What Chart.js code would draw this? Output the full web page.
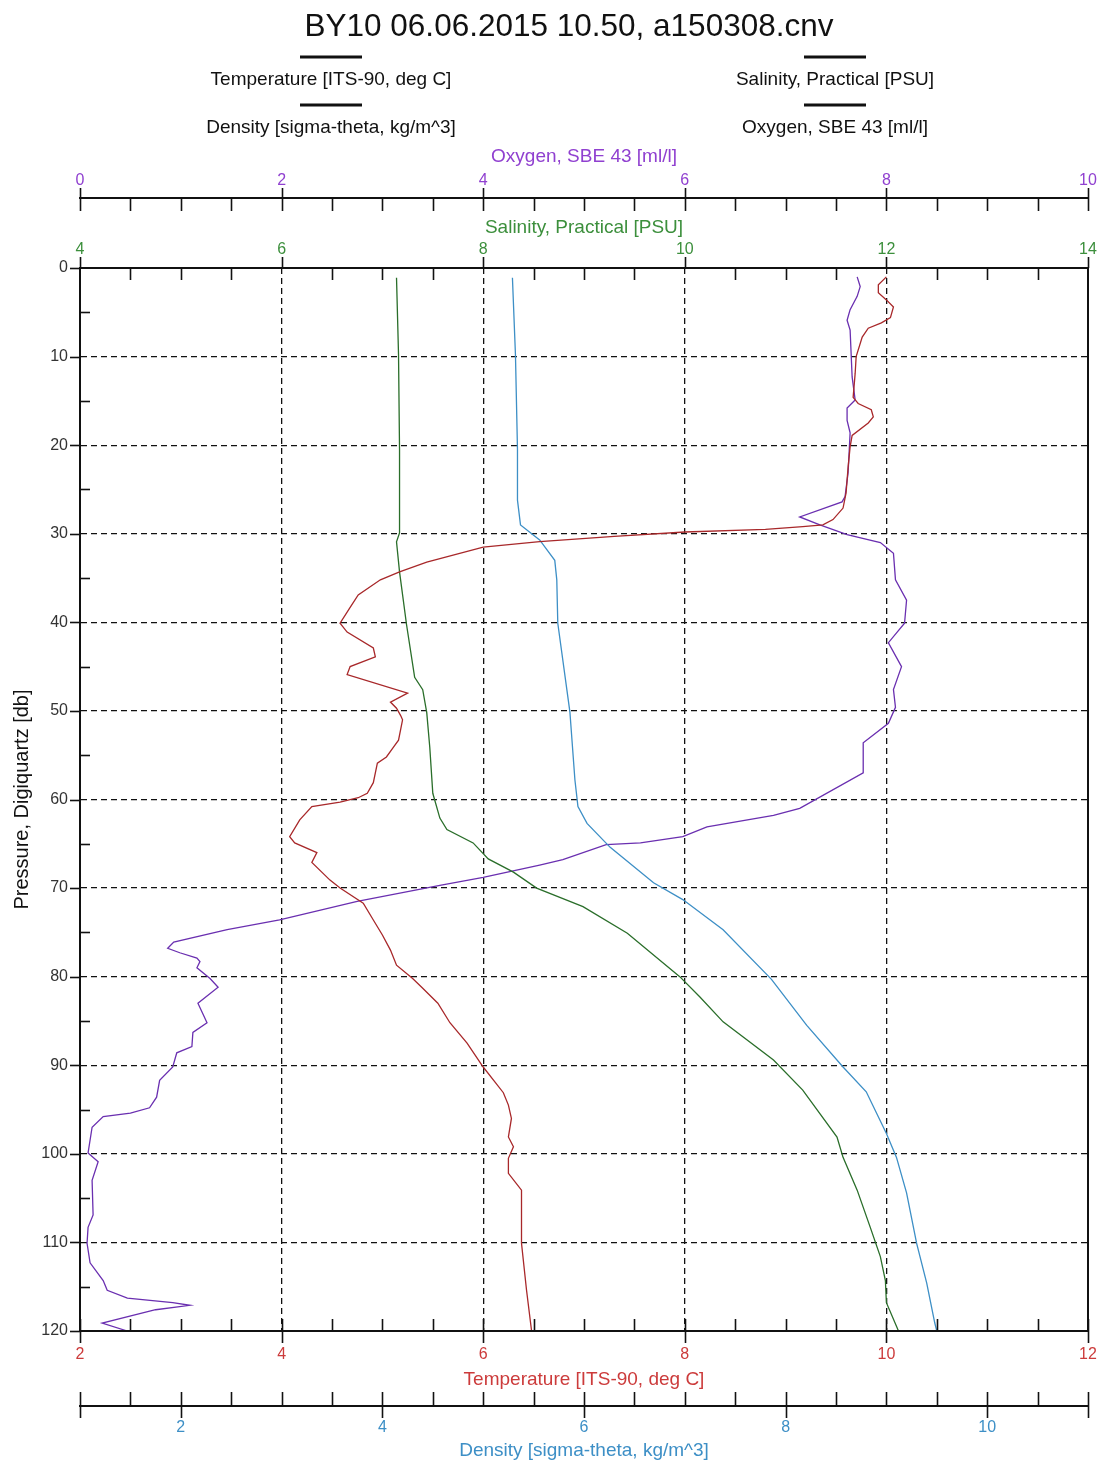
<!DOCTYPE html>
<html>
<head>
<meta charset="utf-8">
<script src="https://cdn.jsdelivr.net/npm/chart.js@4.4.1/dist/chart.umd.min.js"></script>
<style>
  html, body { margin: 0; padding: 0; background: #fff; }
  canvas { display: block; }
</style>
</head>
<body>
<canvas id="perfil" width="1101" height="1466"></canvas>
<script>
const chartTitle = 'BY10 06.06.2015 10.50, a150308.cnv';

// CTD cast, one pressure array per trace (db)
const tempPres = [1.0, 1.9, 2.8, 3.6, 4.4, 5.6, 6.2, 6.8, 7.8, 10.0, 11.9, 14.6, 15.3, 16.0, 16.8, 17.5, 18.9, 20.2, 22.5, 25.4,
  27.1, 28.4, 29.0, 29.2, 29.5, 29.8, 30.3, 30.9, 31.5, 33.2, 34.3, 35.2, 36.9, 38.3, 40.1, 41.1, 42.9, 43.9, 45.0, 45.9,
  48.0, 49.0, 49.7, 50.5, 51.0, 53.3, 54.1, 55.2, 55.9, 58.1, 59.3, 59.8, 60.3, 60.8, 62.3, 64.2, 64.9, 66.0, 67.1, 69.1,
  70.0, 71.7, 73.6, 75.3, 77.0, 78.7, 80.2, 81.2, 83.0, 85.2, 87.5, 90.2, 93.1, 94.5, 96.0, 98.1, 99.2, 100.5, 102.2, 104.1,
  110.1, 115.4, 120.0];
const temperature = [10.00, 9.92, 9.92, 10.00, 10.07, 10.04, 9.95, 9.82, 9.76, 9.70, 9.69, 9.67, 9.72, 9.85, 9.87, 9.82, 9.66, 9.64, 9.62, 9.60,
  9.57, 9.47, 9.37, 9.17, 8.80, 8.00, 7.30, 6.56, 6.00, 5.44, 5.17, 4.98, 4.76, 4.68, 4.58, 4.65, 4.91, 4.93, 4.68, 4.65,
  5.25, 5.08, 5.14, 5.18, 5.20, 5.16, 5.11, 5.04, 4.95, 4.91, 4.85, 4.76, 4.58, 4.30, 4.18, 4.08, 4.13, 4.35, 4.30, 4.48,
  4.58, 4.81, 4.91, 5.00, 5.08, 5.14, 5.30, 5.39, 5.55, 5.67, 5.84, 6.00, 6.20, 6.25, 6.28, 6.25, 6.30, 6.25, 6.25, 6.38,
  6.38, 6.43, 6.48];

const salPres = [1.1, 9.8, 20.5, 29.9, 30.9, 34.3, 40.3, 46.2, 47.6, 50.2, 54.1, 59.3, 62.1, 63.4, 64.9, 66.7, 68.2, 70.0,
  72.1, 75.1, 80.0, 82.3, 85.1, 89.4, 92.8, 98.1, 100.4, 104.1, 108.3, 111.6, 114.3, 116.8, 120.0];
const salinity = [7.14, 7.16, 7.17, 7.17, 7.14, 7.17, 7.24, 7.32, 7.40, 7.44, 7.47, 7.50, 7.57, 7.64, 7.90, 8.05, 8.30, 8.53,
  8.99, 9.43, 9.95, 10.15, 10.38, 10.88, 11.17, 11.51, 11.57, 11.71, 11.84, 11.94, 11.99, 12.00, 12.12];

const densPres = [1.1, 9.8, 20.5, 26.2, 29.0, 30.7, 33.0, 35.2, 40.1, 50.1, 57.8, 60.8, 62.7, 65.4, 69.4, 71.3, 74.7, 80.3,
  85.5, 90.2, 93.0, 97.7, 100.4, 104.4, 110.1, 114.6, 119.1, 120.0];
const density = [5.29, 5.32, 5.34, 5.34, 5.37, 5.56, 5.71, 5.73, 5.74, 5.86, 5.91, 5.94, 6.03, 6.26, 6.69, 6.98, 7.38, 7.86,
  8.21, 8.57, 8.80, 9.00, 9.10, 9.20, 9.30, 9.40, 9.48, 9.50];

const oxyPres = [1.0, 2.1, 3.2, 4.7, 5.9, 7.0, 12.3, 14.9, 15.8, 17.2, 18.6, 23.1, 25.8, 26.4, 28.1, 29.0, 30.1, 31.0, 32.2, 35.2,
  37.5, 40.1, 42.3, 45.0, 47.6, 49.6, 51.4, 53.6, 57.0, 61.0, 61.8, 63.1, 64.2, 64.9, 65.1, 66.8, 67.4, 68.8, 69.7, 71.5,
  73.6, 74.7, 76.1, 76.8, 77.3, 77.9, 78.3, 79.0, 80.2, 81.2, 83.0, 85.2, 86.3, 87.9, 88.6, 90.2, 91.7, 93.6, 94.8, 95.4,
  95.8, 97.0, 99.9, 100.9, 103.0, 106.9, 108.3, 110.1, 112.3, 114.3, 115.4, 116.3, 116.8, 117.1, 117.6, 119.1, 120.0];
const oxygen = [7.71, 7.74, 7.71, 7.64, 7.61, 7.64, 7.66, 7.69, 7.61, 7.61, 7.64, 7.62, 7.59, 7.56, 7.14, 7.34, 7.61, 7.94, 8.07, 8.09,
  8.20, 8.18, 8.02, 8.15, 8.07, 8.09, 8.02, 7.77, 7.77, 7.14, 6.88, 6.22, 5.98, 5.56, 5.22, 4.79, 4.56, 4.00, 3.57, 2.75,
  1.98, 1.46, 0.93, 0.87, 0.99, 1.16, 1.19, 1.16, 1.29, 1.37, 1.17, 1.26, 1.12, 1.11, 0.96, 0.92, 0.79, 0.76, 0.69, 0.50,
  0.23, 0.12, 0.08, 0.18, 0.12, 0.13, 0.08, 0.07, 0.10, 0.23, 0.27, 0.47, 0.92, 1.09, 0.75, 0.22, 0.47];

// axis tick labels
const pressureTicks = [0, 10, 20, 30, 40, 50, 60, 70, 80, 90, 100, 110, 120];
const tempTicks = [2, 4, 6, 8, 10, 12];
const salTicks = [4, 6, 8, 10, 12, 14];
const densTicks = [2, 4, 6, 8, 10];
const oxyTicks = [0, 2, 4, 6, 8, 10];

const FONT = "'Liberation Sans', Arial, sans-serif";
Chart.defaults.font.family = FONT;
Chart.defaults.font.size = 16;

const titleFont = { size: 19 };

const colors = {
  temp: { line: '#a8282a', text: '#cc3b3b' },
  sal: { line: '#2a6e2a', text: '#3c8f3c' },
  dens: { line: '#3d8fc6', text: '#3d8fc6' },
  oxy: { line: '#6a2fb0', text: '#9040d0' }
};

function toPoints(values, pres) {
  return values.map((v, i) => ({ x: v, y: pres[i] }));
}

function setTicks(list) {
  return scale => { scale.ticks = list.map(v => ({ value: v })); };
}

function fixSize(size) {
  return scale => {
    if (scale.isHorizontal()) scale.height = size; else scale.width = size;
    scale.paddingLeft = 0;
    scale.paddingRight = 0;
  };
}

function xAxis(opts) {
  return {
    type: 'linear',
    position: opts.position,
    weight: opts.weight,
    min: opts.min,
    max: opts.max,
    afterBuildTicks: setTicks(opts.ticks),
    afterFit: fixSize(opts.size),
    grid: opts.grid || { display: false, drawTicks: false },
    border: { display: true, color: '#111', width: 2, dash: opts.grid ? [6, 4] : [] },
    ticks: { color: opts.color, padding: opts.labelPad, maxRotation: 0, autoSkip: false },
    title: { display: true, text: opts.title, color: opts.color, padding: opts.titlePad, font: titleFont }
  };
}

// short/long tick marks along each axis line (offsets in px, positive = down)
const tickMarks = {
  xOxy: { edge: 'bottom', minor: [0, 13], major: [-10, 13] },
  xSal: { edge: 'bottom', minor: [0, 12], major: [-11, 0] },
  xTemp: { edge: 'top', minor: [-12, 0], major: [-12, 12] },
  xDens: { edge: 'top', minor: [-14, 0], major: [-14, 12] }
};

const profileDecor = {
  id: 'profileDecor',
  afterDraw(chart) {
    const ctx = chart.ctx;
    const area = chart.chartArea;
    ctx.save();
    ctx.strokeStyle = '#111';
    ctx.lineWidth = 1.6;

    Object.keys(tickMarks).forEach(id => {
      const s = chart.scales[id];
      const m = tickMarks[id];
      const y0 = s[m.edge];
      for (let v = s.min; v <= s.max + 1e-9; v += 0.5) {
        const x = Math.round(s.getPixelForValue(v)) + 0.5;
        const isMajor = Math.abs(v / 2 - Math.round(v / 2)) < 1e-9 || v === s.min || v === s.max;
        const [a, b] = isMajor ? m.major : m.minor;
        ctx.beginPath();
        ctx.moveTo(x, y0 + a);
        ctx.lineTo(x, y0 + b);
        ctx.stroke();
      }
    });

    const ys = chart.scales.y;
    for (let p = ys.min; p <= ys.max; p += 5) {
      const y = Math.round(ys.getPixelForValue(p)) + 0.5;
      const major = p % 10 === 0;
      ctx.beginPath();
      ctx.moveTo(major ? area.left - 10 : area.left, y);
      ctx.lineTo(major ? area.left : area.left + 10, y);
      ctx.stroke();
    }

    // plot frame
    ctx.lineWidth = 2;
    ctx.strokeRect(area.left, area.top, area.right - area.left, area.bottom - area.top);

    // title
    ctx.fillStyle = '#111';
    ctx.textAlign = 'center';
    ctx.textBaseline = 'middle';
    ctx.font = '31.5px ' + FONT;
    ctx.fillText(chartTitle, 569, 27);

    // legend: two columns, black sample line above each name
    const colX = [331, 835];
    const rowY = [57, 105];
    ctx.font = '19px ' + FONT;
    chart.data.datasets.forEach((ds, i) => {
      const cx = colX[i % 2];
      const ly = rowY[Math.floor(i / 2)];
      ctx.lineWidth = 3;
      ctx.beginPath();
      ctx.moveTo(cx - 31, ly);
      ctx.lineTo(cx + 31, ly);
      ctx.stroke();
      ctx.fillText(ds.label, cx, ly + 23);
    });
    ctx.restore();
  }
};

const lineStyle = { showLine: true, pointRadius: 0, borderWidth: 1.3, fill: false, tension: 0 };

new Chart(document.getElementById('perfil'), {
  type: 'scatter',
  data: {
    datasets: [
      Object.assign({ label: 'Temperature [ITS-90, deg C]', data: toPoints(temperature, tempPres), xAxisID: 'xTemp',
        borderColor: colors.temp.line }, lineStyle),
      Object.assign({ label: 'Salinity, Practical [PSU]', data: toPoints(salinity, salPres), xAxisID: 'xSal',
        borderColor: colors.sal.line }, lineStyle),
      Object.assign({ label: 'Density [sigma-theta, kg/m^3]', data: toPoints(density, densPres), xAxisID: 'xDens',
        borderColor: colors.dens.line }, lineStyle),
      Object.assign({ label: 'Oxygen, SBE 43 [ml/l]', data: toPoints(oxygen, oxyPres), xAxisID: 'xOxy',
        borderColor: colors.oxy.line }, lineStyle)
    ]
  },
  options: {
    responsive: false,
    animation: false,
    devicePixelRatio: 1,
    layout: { padding: { top: 140, right: 13, bottom: 0, left: 0 } },
    plugins: { legend: { display: false }, tooltip: { enabled: false } },
    scales: {
      y: {
        type: 'linear',
        reverse: true,
        min: 0,
        max: 120,
        afterBuildTicks: setTicks(pressureTicks),
        afterFit: fixSize(80),
        grid: { color: '#111', lineWidth: 1.3, drawTicks: false },
        border: { display: true, color: '#111', width: 2, dash: [6, 4] },
        ticks: { color: '#333', padding: 12 },
        title: { display: true, text: 'Pressure, Digiquartz [db]', color: '#111', padding: { top: 10 }, font: { size: 20 } }
      },
      xOxy: xAxis({ position: 'top', weight: 2, min: 0, max: 10, ticks: oxyTicks, size: 58,
        color: colors.oxy.text, labelPad: 8, titlePad: { top: 5 }, title: 'Oxygen, SBE 43 [ml/l]' }),
      xSal: xAxis({ position: 'top', weight: 1, min: 4, max: 14, ticks: salTicks, size: 70,
        color: colors.sal.text, labelPad: 9, titlePad: { top: 18 }, title: 'Salinity, Practical [PSU]' }),
      xTemp: xAxis({ position: 'bottom', weight: 1, min: 2, max: 12, ticks: tempTicks, size: 75,
        color: colors.temp.text, labelPad: 14, titlePad: { bottom: 15 }, title: 'Temperature [ITS-90, deg C]',
        grid: { display: true, drawTicks: false, color: '#111', lineWidth: 1.3 } }),
      xDens: xAxis({ position: 'bottom', weight: 2, min: 1, max: 11, ticks: densTicks, size: 60,
        color: colors.dens.text, labelPad: 12, titlePad: { bottom: 4 }, title: 'Density [sigma-theta, kg/m^3]' })
    }
  },
  plugins: [profileDecor]
});
</script>
</body>
</html>
